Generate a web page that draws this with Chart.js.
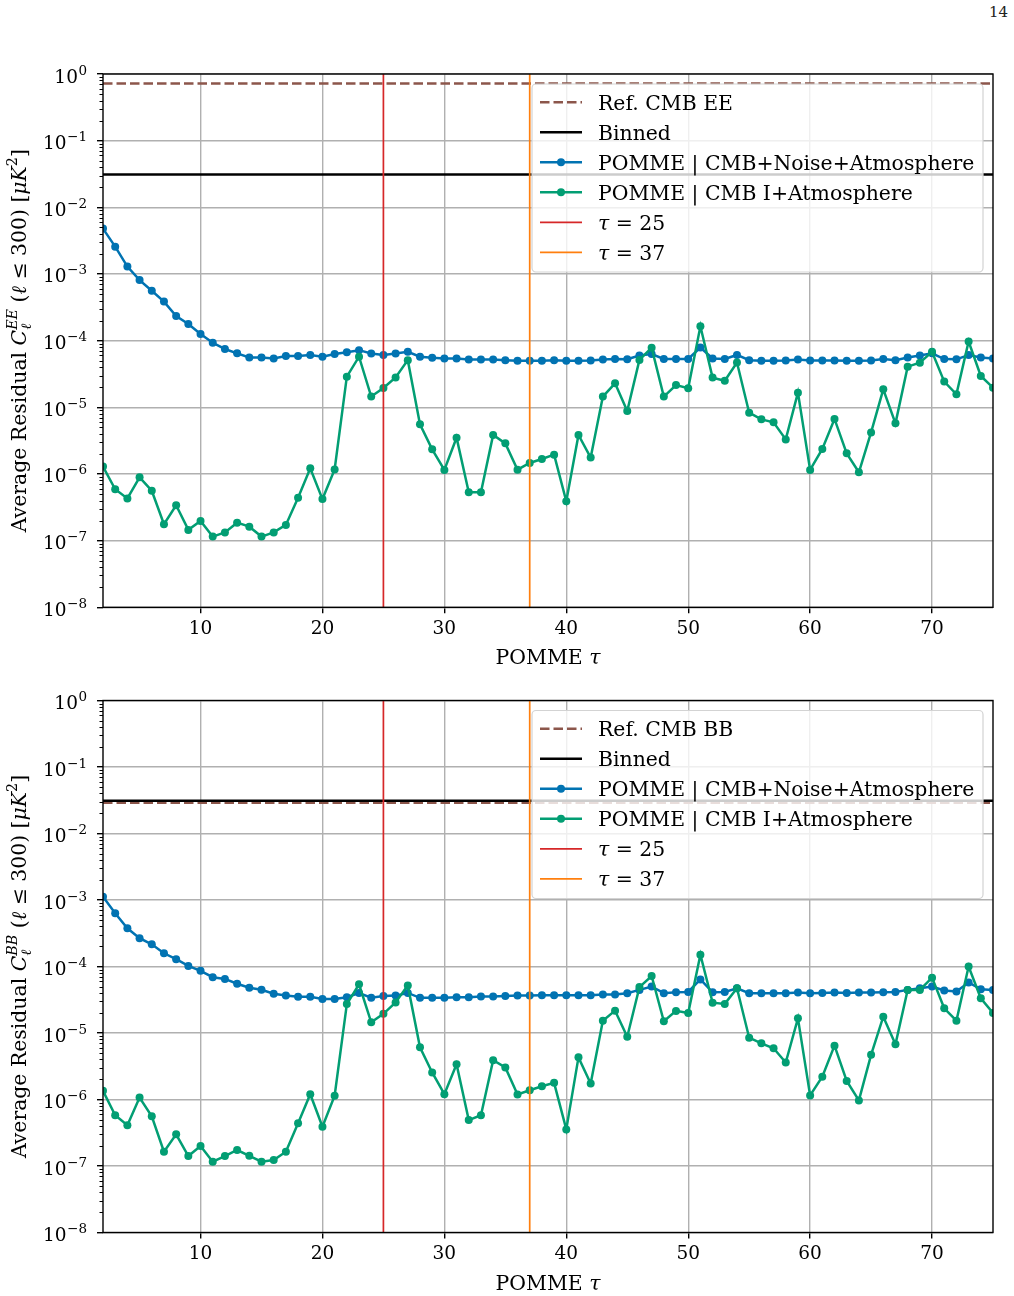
<!DOCTYPE html>
<html><head><meta charset="utf-8">
<script src="https://cdn.jsdelivr.net/npm/chart.js@4.4.1/dist/chart.umd.min.js"></script>
<style>
html,body{margin:0;padding:0;background:#fff;width:1014px;height:1296px;overflow:hidden;}
canvas{position:absolute;left:0;}
#pg{position:absolute;right:6px;top:3px;font:15px 'DejaVu Serif',serif;color:#222;}
</style></head><body>
<div id="pg">14</div>
<canvas id="c1" width="1014" height="680" style="top:0"></canvas>
<canvas id="c2" width="1014" height="616" style="top:680px"></canvas>
<script>
// ---------------- data ----------------
const taus = [2,3,4,5,6,7,8,9,10,11,12,13,14,15,16,17,18,19,20,21,22,23,24,25,26,27,28,29,30,31,32,33,34,35,36,37,38,39,40,41,42,43,44,45,46,47,48,49,50,51,52,53,54,55,56,57,58,59,60,61,62,63,64,65,66,67,68,69,70,71,72,73,74,75];
const xLimits = [2, 75];
const yLimits = [1e-8, 1];
const xTickValues = [10, 20, 30, 40, 50, 60, 70];
const yTickExponents = [-8, -7, -6, -5, -4, -3, -2, -1, 0];
const tauLines = [25, 37];

const eeBlue = [4.8e-3,2.57e-3,1.29e-3,8.1e-4,5.6e-4,3.85e-4,2.34e-4,1.78e-4,1.26e-4,9.3e-5,7.5e-5,6.45e-5,5.6e-5,5.6e-5,5.4e-5,5.9e-5,5.9e-5,6.1e-5,5.75e-5,6.3e-5,6.7e-5,7.2e-5,6.4e-5,6.1e-5,6.4e-5,6.8e-5,5.75e-5,5.55e-5,5.4e-5,5.4e-5,5.2e-5,5.2e-5,5.2e-5,5.1e-5,5.0e-5,5.0e-5,5.0e-5,5.1e-5,5.0e-5,5.0e-5,5.05e-5,5.2e-5,5.3e-5,5.25e-5,6.0e-5,6.3e-5,5.3e-5,5.3e-5,5.3e-5,7.9e-5,5.4e-5,5.3e-5,6.1e-5,5.1e-5,5.0e-5,5.0e-5,5.05e-5,5.2e-5,5.05e-5,5.05e-5,5.05e-5,5.0e-5,5.0e-5,5.05e-5,5.3e-5,5.1e-5,5.6e-5,6.0e-5,6.45e-5,5.3e-5,5.25e-5,6.1e-5,5.6e-5,5.4e-5];
const eeGreen = [1.29e-6,5.9e-7,4.3e-7,8.9e-7,5.6e-7,1.76e-7,3.4e-7,1.45e-7,1.97e-7,1.15e-7,1.33e-7,1.86e-7,1.62e-7,1.15e-7,1.33e-7,1.72e-7,4.4e-7,1.22e-6,4.2e-7,1.17e-6,2.88e-5,5.75e-5,1.45e-5,1.95e-5,2.8e-5,5.1e-5,5.56e-6,2.34e-6,1.15e-6,3.5e-6,5.3e-7,5.3e-7,3.85e-6,2.88e-6,1.16e-6,1.46e-6,1.68e-6,1.95e-6,3.9e-7,3.85e-6,1.76e-6,1.45e-5,2.29e-5,8.8e-6,5.13e-5,7.85e-5,1.45e-5,2.16e-5,1.93e-5,1.64e-4,2.79e-5,2.5e-5,4.7e-5,8.3e-6,6.6e-6,5.96e-6,3.3e-6,1.66e-5,1.15e-6,2.37e-6,6.7e-6,2.04e-6,1.06e-6,4.2e-6,1.86e-5,5.75e-6,4.07e-5,4.68e-5,6.8e-5,2.43e-5,1.57e-5,9.7e-5,2.95e-5,1.97e-5];
const bbBlue = [1.12e-3,6.3e-4,3.76e-4,2.66e-4,2.16e-4,1.58e-4,1.29e-4,1.02e-4,8.6e-5,6.9e-5,6.5e-5,5.5e-5,4.8e-5,4.47e-5,3.9e-5,3.67e-5,3.5e-5,3.5e-5,3.24e-5,3.24e-5,3.45e-5,3.98e-5,3.4e-5,3.6e-5,3.65e-5,4.0e-5,3.38e-5,3.38e-5,3.38e-5,3.45e-5,3.45e-5,3.53e-5,3.53e-5,3.6e-5,3.65e-5,3.65e-5,3.7e-5,3.7e-5,3.7e-5,3.7e-5,3.7e-5,3.8e-5,3.8e-5,3.97e-5,4.45e-5,5.0e-5,3.97e-5,4.1e-5,4.15e-5,6.4e-5,4.1e-5,4.15e-5,4.7e-5,3.97e-5,3.95e-5,3.97e-5,3.97e-5,4.05e-5,3.97e-5,4.0e-5,4.05e-5,4.0e-5,4.05e-5,4.05e-5,4.1e-5,4.15e-5,4.45e-5,4.7e-5,5.0e-5,4.35e-5,4.2e-5,5.75e-5,4.55e-5,4.45e-5];
const bbGreen = [1.35e-6,5.8e-7,4.1e-7,1.07e-6,5.6e-7,1.64e-7,3.0e-7,1.41e-7,2.0e-7,1.16e-7,1.41e-7,1.74e-7,1.42e-7,1.16e-7,1.23e-7,1.64e-7,4.4e-7,1.2e-6,3.9e-7,1.14e-6,2.72e-5,5.4e-5,1.45e-5,1.94e-5,2.88e-5,5.2e-5,6.1e-6,2.55e-6,1.2e-6,3.4e-6,4.9e-7,5.8e-7,3.9e-6,3.03e-6,1.19e-6,1.38e-6,1.58e-6,1.78e-6,3.55e-7,4.3e-6,1.74e-6,1.53e-5,2.17e-5,8.8e-6,4.9e-5,7.2e-5,1.5e-5,2.15e-5,2.0e-5,1.5e-4,2.86e-5,2.74e-5,4.7e-5,8.5e-6,7.0e-6,5.9e-6,3.6e-6,1.66e-5,1.15e-6,2.2e-6,6.45e-6,1.9e-6,9.7e-7,4.7e-6,1.76e-5,6.75e-6,4.45e-5,4.45e-5,6.8e-5,2.35e-5,1.53e-5,1.0e-4,3.33e-5,2.0e-5];
const eeRefLevel = [0.72];
const eeBinnedLevel = [0.031];
const bbRefLevel = [0.029];
const bbBinnedLevel = [0.031];
const legendLabelsEE = ['Ref. CMB EE', 'Binned', 'POMME | CMB+Noise+Atmosphere', 'POMME | CMB I+Atmosphere'];
const legendLabelsBB = ['Ref. CMB BB', 'Binned', 'POMME | CMB+Noise+Atmosphere', 'POMME | CMB I+Atmosphere'];

// ---------------- styles ----------------
const FAM = "'DejaVu Serif', serif";
const C = {blue:'#0173b2', green:'#029e73', red:'#d62728', orange:'#ff7f0e', brown:'#8c564b', black:'#000000', grid:'#b0b0b0'};
const LF = 20.4, LS = 14.3;

function richLayout(ctx, parts){
  let x = 0, pend = 0; const items = [];
  for (const p of parts){
    ctx.font = (p.it ? 'italic ' : '') + p.size + 'px ' + FAM;
    const w = ctx.measureText(p.t).width;
    items.push({p, x, w});
    if (p.stack) pend = w; else { x += Math.max(w, pend); pend = 0; }
  }
  return {items, width: x};
}
function drawRich(ctx, parts, x0, baseline, align){
  const L = richLayout(ctx, parts);
  const start = align === 'center' ? x0 - L.width/2 : (align === 'right' ? x0 - L.width : x0);
  ctx.textAlign = 'left'; ctx.textBaseline = 'alphabetic'; ctx.fillStyle = '#000';
  for (const it of L.items){
    ctx.font = (it.p.it ? 'italic ' : '') + it.p.size + 'px ' + FAM;
    ctx.fillText(it.p.t, start + it.x, baseline + (it.p.dy || 0));
  }
}

function makePanel(canvas, padTop, padBottom, blue, green, refLevel, binnedLevel, labels, yKey){
  const pts = arr => taus.map((t, i) => ({x: t, y: arr[i]}));
  const hline = v => [{x: xLimits[0], y: v}, {x: xLimits[1], y: v}];
  const vline = v => [{x: v, y: yLimits[0]}, {x: v, y: yLimits[1]}];
  const base = {pointRadius: 0, pointHoverRadius: 0, tension: 0, clip: 0, fill: false};
  const datasets = [
    Object.assign({}, base, {label: labels[0], data: hline(refLevel[0]), borderColor: C.brown, borderWidth: 2.5, borderDash: [9.5, 4], order: 5}),
    Object.assign({}, base, {label: labels[1], data: hline(binnedLevel[0]), borderColor: C.black, borderWidth: 2.5, order: 4}),
    Object.assign({}, base, {label: labels[2], data: pts(blue), borderColor: C.blue, backgroundColor: C.blue, pointBackgroundColor: C.blue, pointBorderWidth: 0, pointRadius: 4, borderWidth: 2.5, order: 3}),
    Object.assign({}, base, {label: labels[3], data: pts(green), borderColor: C.green, backgroundColor: C.green, pointBackgroundColor: C.green, pointBorderWidth: 0, pointRadius: 4, borderWidth: 2.5, order: 2}),
    Object.assign({}, base, {label: 'tau25', data: vline(tauLines[0]), borderColor: C.red, borderWidth: 1.7, order: 1}),
    Object.assign({}, base, {label: 'tau37', data: vline(tauLines[1]), borderColor: C.orange, borderWidth: 1.7, order: 0})
  ];
  const deco = {
    id: 'deco',
    afterDraw(chart){
      const ctx = chart.ctx, a = chart.chartArea, ys = chart.scales.y;
      ctx.save();
      // legend
      const lx = a.right - 10 - 451, ly = a.top + 10;
      ctx.beginPath();
      ctx.roundRect(lx, ly, 451, 188, 4);
      ctx.fillStyle = 'rgba(255,255,255,0.8)'; ctx.fill();
      ctx.strokeStyle = '#d3d3d3'; ctx.lineWidth = 1.2; ctx.stroke();
      const handles = [
        {c: C.brown, w: 2.5, dash: [9.5, 4]}, {c: C.black, w: 2.5}, {c: C.blue, w: 2.5, m: true},
        {c: C.green, w: 2.5, m: true}, {c: C.red, w: 1.7}, {c: C.orange, w: 1.7}
      ];
      const texts = [
        [{t: labels[0], size: LF}], [{t: labels[1], size: LF}], [{t: labels[2], size: LF}], [{t: labels[3], size: LF}],
        [{t: 'τ', it: true, size: LF}, {t: ' = ' + tauLines[0], size: LF}],
        [{t: 'τ', it: true, size: LF}, {t: ' = ' + tauLines[1], size: LF}]
      ];
      for (let i = 0; i < 6; i++){
        const yy = ly + 18.3 + 30 * i, h = handles[i];
        ctx.beginPath(); ctx.setLineDash(h.dash || []);
        ctx.strokeStyle = h.c; ctx.lineWidth = h.w;
        ctx.moveTo(lx + 8, yy); ctx.lineTo(lx + 50, yy); ctx.stroke();
        ctx.setLineDash([]);
        if (h.m){ ctx.beginPath(); ctx.fillStyle = h.c; ctx.arc(lx + 29, yy, 4, 0, Math.PI * 2); ctx.fill(); }
        drawRich(ctx, texts[i], lx + 66, yy + 7.2, 'left');
      }
      // spines
      ctx.strokeStyle = '#000'; ctx.lineWidth = 1.4;
      ctx.strokeRect(a.left, a.top, a.right - a.left, a.bottom - a.top);
      // minor y ticks
      ctx.lineWidth = 1;
      for (let e = yTickExponents[0]; e < yTickExponents[yTickExponents.length - 1]; e++){
        for (let k = 2; k <= 9; k++){
          const py = Math.round(ys.getPixelForValue(k * Math.pow(10, e))) + 0.5;
          ctx.beginPath(); ctx.moveTo(a.left - 3.5, py); ctx.lineTo(a.left, py); ctx.stroke();
        }
      }
      // y tick labels
      for (const e of yTickExponents){
        const py = ys.getPixelForValue(Math.pow(10, e));
        const expStr = e < 0 ? '\u2212' + (-e) : String(e);
        ctx.font = '13.5px ' + FAM;
        const ew = ctx.measureText(expStr).width;
        ctx.fillStyle = '#000'; ctx.textAlign = 'left'; ctx.textBaseline = 'alphabetic';
        ctx.fillText(expStr, 87 - ew, py + 0.5);
        ctx.font = '18.5px ' + FAM;
        const bw = ctx.measureText('10').width;
        ctx.fillText('10', 87 - ew - 0.5 - bw, py + 8.5);
      }
      // x title
      drawRich(ctx, [{t: 'POMME ', size: LF}, {t: 'τ', it: true, size: LF}], (a.left + a.right) / 2, a.bottom + 57, 'center');
      // y title
      ctx.translate(26, (a.top + a.bottom) / 2);
      ctx.rotate(-Math.PI / 2);
      drawRich(ctx, [
        {t: 'Average Residual ', size: LF}, {t: 'C', it: true, size: LF},
        {t: 'ℓ', it: true, size: LS, dy: 5, stack: true}, {t: yKey, it: true, size: LS, dy: -9},
        {t: ' (', size: LF}, {t: 'ℓ', it: true, size: LF}, {t: ' ≤ 300) [', size: LF},
        {t: 'μK', it: true, size: LF}, {t: '2', size: LS, dy: -9}, {t: ']', size: LF}
      ], 0, 0, 'center');
      ctx.restore();
    }
  };
  return new Chart(canvas, {
    type: 'line',
    data: {datasets},
    options: {
      responsive: false, animation: false, events: [],
      layout: {padding: {top: padTop, bottom: padBottom, left: 0, right: 21}},
      plugins: {legend: {display: false}, tooltip: {enabled: false}, title: {display: false}},
      scales: {
        x: {
          type: 'linear', min: xLimits[0], max: xLimits[1],
          afterBuildTicks: s => { s.ticks = xTickValues.map(v => ({value: v})); },
          afterFit: s => { s.height = 41; },
          ticks: {autoSkip: false, maxRotation: 0, padding: 5, color: '#000', font: {family: FAM, size: 18.5}, callback: v => String(v)},
          grid: {color: C.grid, lineWidth: 1.4, tickColor: '#000', tickLength: 6, tickWidth: 1.4, drawTicks: true},
          border: {display: false}
        },
        y: {
          type: 'logarithmic', min: yLimits[0], max: yLimits[1],
          afterBuildTicks: s => { s.ticks = yTickExponents.map(e => ({value: Math.pow(10, e), major: true})); },
          afterFit: s => { s.width = 103; },
          ticks: {display: false, autoSkip: false},
          grid: {color: C.grid, lineWidth: 1.4, tickColor: '#000', tickLength: 6, tickWidth: 1.4, drawTicks: true},
          border: {display: false}
        }
      }
    },
    plugins: [deco]
  });
}

makePanel(document.getElementById('c1'), 74, 680 - 607.3 - 41, eeBlue, eeGreen, eeRefLevel, eeBinnedLevel, legendLabelsEE, 'EE');
makePanel(document.getElementById('c2'), 20.5, 616 - 552.5 - 41, bbBlue, bbGreen, bbRefLevel, bbBinnedLevel, legendLabelsBB, 'BB');
</script>
</body></html>
